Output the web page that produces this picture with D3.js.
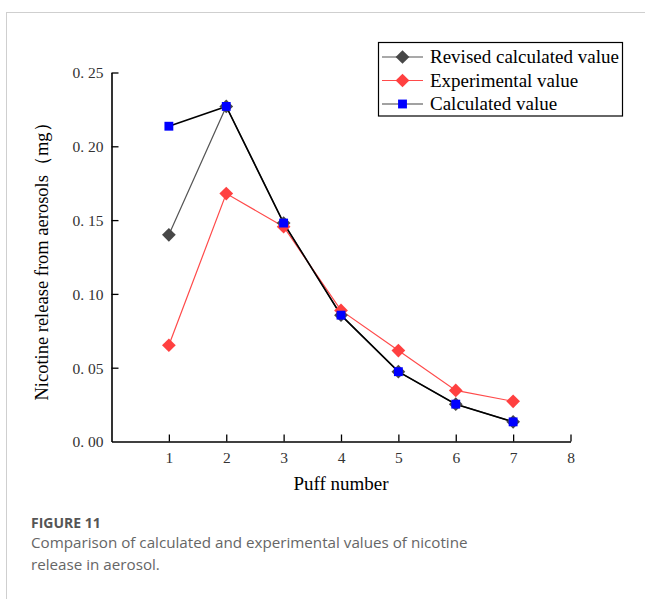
<!DOCTYPE html>
<html>
<head>
<meta charset="utf-8">
<script src="https://cdn.jsdelivr.net/npm/d3@7"></script>
<style>
  html, body { margin: 0; padding: 0; background: #fff; }
  svg { display: block; }
</style>
</head>
<body>
<script>
// Puff numbers and nicotine released per puff (mg)
const puffs = [1, 2, 3, 4, 5, 6, 7];
const revisedCalculated = [0.140, 0.227, 0.148, 0.0856, 0.0473, 0.0253, 0.0133];
const experimental = [0.0652, 0.168, 0.1455, 0.0888, 0.0616, 0.0346, 0.0272];
const calculated = [0.2136, 0.227, 0.148, 0.0856, 0.0473, 0.0253, 0.0133];
const xTicks = [1, 2, 3, 4, 5, 6, 7, 8];
const yTicks = [0, 0.05, 0.10, 0.15, 0.20, 0.25];

const W = 645, H = 599;
const svg = d3.select("body").append("svg").attr("width", W).attr("height", H);

// Page frame lines
svg.append("line").attr("x1", 6.5).attr("x2", 6.5).attr("y1", 12).attr("y2", H)
  .attr("stroke", "#cfcfcf").attr("stroke-width", 1);
svg.append("line").attr("x1", 6).attr("x2", W).attr("y1", 12.5).attr("y2", 12.5)
  .attr("stroke", "#cfcfcf").attr("stroke-width", 1);

const x = d3.scaleLinear().domain([0, 8]).range([111.5, 570.5]);
const y = d3.scaleLinear().domain([0, 0.25]).range([441.5, 72.5]);

const serif = "'Liberation Serif', 'DejaVu Serif', serif";

// Axes with inward ticks
const yAxis = svg.append("g").attr("transform", `translate(${x(0)},0)`)
  .call(d3.axisLeft(y).tickValues(yTicks).tickSizeInner(-7).tickSizeOuter(0)
    .tickPadding(8).tickFormat(d => d3.format(".2f")(d).replace(".", ". ")));
const xAxis = svg.append("g").attr("transform", `translate(0,${y(0)})`)
  .call(d3.axisBottom(x).tickValues(xTicks).tickSizeInner(-7).tickSizeOuter(0)
    .tickPadding(10).tickFormat(d3.format("d")));
[xAxis, yAxis].forEach(a => {
  a.select(".domain").attr("stroke", "#000").attr("stroke-width", 1.6);
  a.selectAll(".tick line").attr("stroke", "#000").attr("stroke-width", 1.3);
  a.selectAll("text").attr("font-family", serif).attr("font-size", 15.5).attr("fill", "#333");
});
yAxis.selectAll(".tick text").attr("dy", "0.35em");
yAxis.selectAll(".tick").filter(d => d === 0).select("line").remove();

// Axis titles
svg.append("text").attr("x", x(4)).attr("y", 490).attr("text-anchor", "middle")
  .attr("font-family", serif).attr("font-size", 19).attr("fill", "#000").text("Puff number");
svg.append("text").attr("transform", `translate(48,257) rotate(-90)`).attr("text-anchor", "middle")
  .attr("font-family", serif).attr("font-size", 18.5).attr("fill", "#000")
  .text("Nicotine release from aerosols（mg）");

// Series
const series = [
  { name: "Revised calculated value", values: revisedCalculated, line: "#555", lw: 1.2, fill: "#474747", shape: d3.symbolDiamond2 },
  { name: "Experimental value", values: experimental, line: "#ff4a4a", lw: 1.2, fill: "#ff4040", shape: d3.symbolDiamond2 },
  { name: "Calculated value", values: calculated, line: "#000", lw: 1.6, fill: "#0000ff", shape: d3.symbolSquare2 }
];
const lineGen = d3.line().x((d, i) => x(puffs[i])).y(d => y(d));

series.forEach(s => {
  svg.append("path").attr("d", lineGen(s.values)).attr("fill", "none")
    .attr("stroke", s.line).attr("stroke-width", s.lw);
});
series.forEach(s => {
  svg.append("g").selectAll("path").data(s.values).join("path")
    .attr("transform", (d, i) => `translate(${x(puffs[i])},${y(d)})`)
    .attr("d", d3.symbol().type(s.shape).size(s.shape === d3.symbolSquare2 ? 100 : 120))
    .attr("fill", s.fill).attr("stroke", "none");
});

// Legend
const lg = svg.append("g");
lg.append("rect").attr("x", 378.5).attr("y", 42.5).attr("width", 244).attr("height", 73.5)
  .attr("fill", "#fff").attr("stroke", "#000").attr("stroke-width", 1.2);
series.forEach((s, i) => {
  const cy = 57 + i * 23.5;
  lg.append("line").attr("x1", 382).attr("x2", 423).attr("y1", cy).attr("y2", cy)
    .attr("stroke", s.line === "#000" ? "#444" : s.line).attr("stroke-width", 1.2);
  lg.append("path").attr("transform", `translate(402.5,${cy})`)
    .attr("d", d3.symbol().type(s.shape).size(s.shape === d3.symbolSquare2 ? 100 : 120))
    .attr("fill", s.fill);
  lg.append("text").attr("x", 430).attr("y", cy).attr("dy", "0.33em")
    .attr("font-family", serif).attr("font-size", 19).attr("fill", "#000").text(s.name);
});

// Caption
const sans = "'Open Sans', 'Noto Sans', sans-serif";
svg.append("text").attr("x", 31).attr("y", 528).attr("font-family", sans).attr("font-weight", 700)
  .attr("font-size", 14).attr("fill", "#555").text("FIGURE 11");
svg.append("text").attr("x", 31).attr("y", 548).attr("font-family", sans).attr("font-weight", 400)
  .attr("font-size", 15.2).attr("fill", "#666")
  .text("Comparison of calculated and experimental values of nicotine");
svg.append("text").attr("x", 31).attr("y", 570).attr("font-family", sans).attr("font-weight", 400)
  .attr("font-size", 15.2).attr("fill", "#666").text("release in aerosol.");
</script>
</body>
</html>
